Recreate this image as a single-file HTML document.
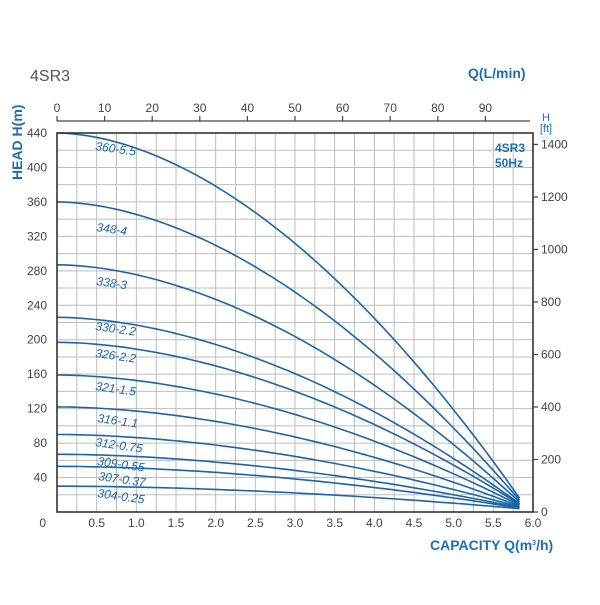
<!DOCTYPE html>
<html><head><meta charset="utf-8"><style>
body{margin:0;background:#fff;}
svg text{font-family:"Liberation Sans",sans-serif;}
</style></head><body>
<svg id="s" width="600" height="600" xmlns="http://www.w3.org/2000/svg">
<rect width="600" height="600" fill="#fff"/>
<g id="grid" stroke="#bdbdbd" stroke-width="1"></g>
<g id="curves" fill="none" stroke="#1c64a6" stroke-width="1.6"></g>
<rect x="57" y="133" width="476" height="379" fill="none" stroke="#333" stroke-width="1.6"/>
<line x1="57" y1="121" x2="530" y2="121" stroke="#444" stroke-width="1.2"/>
<g id="ticks" stroke="#444" stroke-width="1.2"></g>
<g id="labels" font-size="12" fill="#444"></g>
<text x="30" y="81" font-size="16" fill="#555">4SR3</text>
<text x="468" y="78" font-size="14" font-weight="bold" fill="#1f6fb0">Q(L/min)</text>
<text x="546" y="121" font-size="11" fill="#1f6fb0" text-anchor="middle">H</text>
<text x="546" y="132" font-size="11" fill="#1f6fb0" text-anchor="middle">[ft]</text>
<text x="495" y="152" font-size="12" font-weight="bold" fill="#1f6fb0">4SR3</text>
<text x="495" y="167" font-size="12" font-weight="bold" fill="#1f6fb0">50Hz</text>
<text transform="translate(22,180) rotate(-90)" font-size="14" font-weight="bold" fill="#1f6fb0">HEAD H(m)</text>
<text x="430" y="550" font-size="14" font-weight="bold" fill="#1f6fb0">CAPACITY Q(m<tspan font-size="7" dy="-5">3</tspan><tspan dy="5">/h)</tspan></text>
<g id="clabels" font-size="12" font-style="italic" fill="#1c64a6"></g>
</svg>
<script>
const NS="http://www.w3.org/2000/svg";
function el(p,t,a,txt){const e=document.createElementNS(NS,t);for(const k in a)e.setAttribute(k,a[k]);if(txt!==undefined)e.textContent=txt;document.getElementById(p).appendChild(e);}
const X=q=>57+q*476/6, Y=h=>512-h*379/440;
for(let i=1;i<24;i++){el("grid","line",{x1:X(i*0.25),y1:133,x2:X(i*0.25),y2:512});}
for(let h=20;h<440;h+=20){el("grid","line",{x1:57,y1:Y(h),x2:533,y2:Y(h)});}
for(let h=40;h<=440;h+=40){el("labels","text",{x:47,y:Y(h)+4,"text-anchor":"end"},h);}
el("labels","text",{x:46,y:527,"text-anchor":"end"},"0");
for(let i=1;i<=12;i++){el("labels","text",{x:X(i*0.5),y:527,"text-anchor":"middle"},(i*0.5).toFixed(1));}
for(let l=0;l<=90;l+=10){const x=X(l*0.06);el("ticks","line",{x1:x,y1:116,x2:x,y2:121});el("labels","text",{x:x,y:112,"text-anchor":"middle"},l);}
for(let f=0;f<=1400;f+=200){const y=Y(f*0.3048);el("ticks","line",{x1:533,y1:y,x2:538,y2:y});el("labels","text",{x:541,y:y+4},f);}
const cs=[[440,"360-5.5",95,150],[360,"348-4",96,231],[287,"338-3",96,285],[226,"330-2.2",95,330],[197,"326-2.2",95,357],[159,"321-1.5",95,390],[122,"316-1.1",97,422],[90,"312-0.75",95,446],[67,"309-0.55",97,465],[53,"307-0.37",98,480],[30,"304-0.25",97,497]];
const Qm=5.83;
for(const [h0,lab,lx,ly] of cs){
  const he=0.03*h0+3;let d="";
  for(let i=0;i<=60;i++){const q=Qm*i/60;const h=h0-(h0-he)*Math.pow(q/Qm,1.8);d+=(i?"L":"M")+X(q).toFixed(1)+","+Y(h).toFixed(1);}
  el("curves","path",{d:d});
  el("clabels","text",{x:lx,y:ly,transform:`rotate(8 ${lx} ${ly})`},lab);
}
</script>
</body></html>
